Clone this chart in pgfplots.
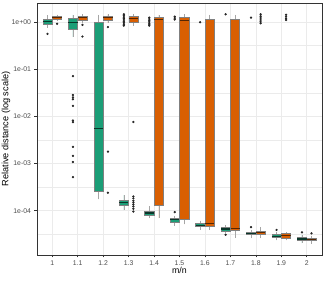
\documentclass[border=0pt]{standalone}
\usepackage{fontspec}
\setmainfont{Liberation Sans}
\usepackage{pgfplots}
\pgfplotsset{compat=1.18}
\usepgfplotslibrary{statistics}
\definecolor{dgreen}{HTML}{1B9E77}
\definecolor{dorange}{HTML}{D95F02}
\pgfplotsset{
  bxbase/.style={draw=black!50, mark=*, mark size=0.85bp,
    mark options={fill=black!85, draw=black!85},
    line width=0.55bp,
    boxplot/draw direction=y,
    boxplot/box extend=0.36, boxplot/whisker extend=0,
    boxplot/every whisker/.style={draw=black!35}},
  gb/.style={bxbase, fill=dgreen,
    boxplot/every median/.style={draw=dgreen!35!black, line width=1.1bp}},
  ob/.style={bxbase, fill=dorange,
    boxplot/every median/.style={draw=dorange!40!black, line width=1.1bp}},
}
\newcommand{\MyBoxPrep}[7]{\addplot[#1, boxplot prepared={draw position=#2, lower whisker=#3, lower quartile=#4, median=#5, upper quartile=#6, upper whisker=#7}]}
\begin{document}
\begin{tikzpicture}
\begin{axis}[
  at={(0,0)}, anchor=south west,
  scale only axis, width=285bp, height=252bp,
  xmin=-0.6, xmax=10.6, ymin=-4.94, ymax=0.40,
  xtick={0,1,2,3,4,5,6,7,8,9,10},
  xticklabels={1,1.1,1.2,1.3,1.4,1.5,1.6,1.7,1.8,1.9,2},
  ytick={-4,-3,-2,-1,0},
  yticklabels={1e-04,1e-03,1e-02,1e-01,1e+00},
  minor ytick={-4.5,-3.5,-2.5,-1.5,-0.5},
  xtick pos=left, ytick pos=left,
  grid=both,
  major grid style={color=black!8, line width=0.55bp},
  minor grid style={color=black!8, line width=0.3bp},
  minor tick length=0pt,
  major tick length=2.5bp,
  tick align=outside,
  tick style={color=black!80, line width=0.5bp},
  axis line style={color=black!80, line width=0.5bp},
  ticklabel style={color=black!70, font=\fontsize{6.9}{8}\selectfont},
  xticklabel style={yshift=0.5bp},
  xlabel={m/n}, ylabel={Relative distance (log scale)},
  every axis x label/.style={at={(axis description cs:0.5,-0.06)}, anchor=center, font=\fontsize{8.8}{10}\selectfont},
  every axis y label/.style={at={(axis description cs:-0.1088,0.5)}, rotate=90, anchor=center, font=\fontsize{9.2}{10}\selectfont},
  clip=false,
]
% 1
\MyBoxPrep{gb}{-0.1875}{-0.127}{-0.05}{0.006}{0.064}{0.14} table[row sep=\\,y index=0]{y\\-0.254\\};
\MyBoxPrep{ob}{0.1875}{0.015}{0.057}{0.09}{0.127}{0.155} table[row sep=\\,y index=0]{y\\-0.04\\};
% 1.1
\MyBoxPrep{gb}{0.8125}{-0.32}{-0.155}{-0.015}{0.07}{0.15} table[row sep=\\,y index=0]{y\\-1.15\\-1.55\\-1.60\\-1.64\\-1.78\\-2.09\\-2.125\\-2.65\\-2.84\\-2.97\\-3.29\\};
\MyBoxPrep{ob}{1.1875}{-0.02}{0.042}{0.09}{0.127}{0.16} table[row sep=\\,y index=0]{y\\-0.064\\-0.31\\};
% 1.2
\MyBoxPrep{gb}{1.8125}{-3.76}{-3.59}{-2.26}{-0.005}{0.15} coordinates {};
\MyBoxPrep{ob}{2.1875}{-0.02}{0.042}{0.086}{0.127}{0.16} table[row sep=\\,y index=0]{y\\-0.11\\-2.75\\-3.62\\};
% 1.3
\MyBoxPrep{gb}{2.8125}{-3.99}{-3.89}{-3.835}{-3.78}{-3.67} table[row sep=\\,y index=0]{y\\0.16\\0.13\\0.10\\0.07\\0.04\\0.01\\-0.02\\-0.05\\-0.08\\};
\MyBoxPrep{ob}{3.1875}{-0.085}{0.0}{0.078}{0.127}{0.17} table[row sep=\\,y index=0]{y\\-2.12\\-3.70\\-3.74\\-3.79\\-3.83\\-3.87\\-3.91\\-3.96\\-4.02\\};
% 1.4
\MyBoxPrep{gb}{3.8125}{-4.16}{-4.10}{-4.05}{-4.01}{-3.91} table[row sep=\\,y index=0]{y\\0.09\\0.06\\0.03\\0.0\\-0.03\\-0.06\\-0.08\\};
\MyBoxPrep{ob}{4.1875}{-4.16}{-3.88}{0.05}{0.09}{0.148} coordinates {};
% 1.5
\MyBoxPrep{gb}{4.8125}{-4.32}{-4.24}{-4.19}{-4.16}{-4.11} table[row sep=\\,y index=0]{y\\-4.03\\0.11\\0.08\\0.05\\};
\MyBoxPrep{ob}{5.1875}{-4.29}{-4.18}{0.028}{0.09}{0.16} coordinates {};
% 1.6
\MyBoxPrep{gb}{5.8125}{-4.41}{-4.34}{-4.31}{-4.27}{-4.21} table[row sep=\\,y index=0]{y\\-0.007\\};
\MyBoxPrep{ob}{6.1875}{-4.40}{-4.33}{-4.265}{0.05}{0.15} coordinates {};
% 1.7
\MyBoxPrep{gb}{6.8125}{-4.47}{-4.43}{-4.39}{-4.36}{-4.31} table[row sep=\\,y index=0]{y\\-4.51\\0.16\\};
\MyBoxPrep{ob}{7.1875}{-4.57}{-4.42}{-4.37}{0.05}{0.15} coordinates {};
% 1.8
\MyBoxPrep{gb}{7.8125}{-4.58}{-4.51}{-4.48}{-4.45}{-4.41} table[row sep=\\,y index=0]{y\\-4.35\\0.09\\};
\MyBoxPrep{ob}{8.1875}{-4.58}{-4.51}{-4.47}{-4.43}{-4.35} table[row sep=\\,y index=0]{y\\0.16\\0.12\\0.08\\0.04\\0.0\\-0.03\\};
% 1.9
\MyBoxPrep{gb}{8.8125}{-4.63}{-4.57}{-4.54}{-4.51}{-4.46} table[row sep=\\,y index=0]{y\\-4.41\\};
\MyBoxPrep{ob}{9.1875}{-4.63}{-4.58}{-4.53}{-4.49}{-4.46} table[row sep=\\,y index=0]{y\\0.15\\0.11\\0.07\\0.04\\};
% 2
\MyBoxPrep{gb}{9.8125}{-4.69}{-4.62}{-4.60}{-4.57}{-4.52} table[row sep=\\,y index=0]{y\\-4.46\\};
\MyBoxPrep{ob}{10.1875}{-4.70}{-4.63}{-4.61}{-4.58}{-4.53} table[row sep=\\,y index=0]{y\\-4.48\\};
\end{axis}
\pgfresetboundingbox
\path[use as bounding box] (-37bp,-26bp) rectangle (292bp,255bp);
\end{tikzpicture}
\end{document}
